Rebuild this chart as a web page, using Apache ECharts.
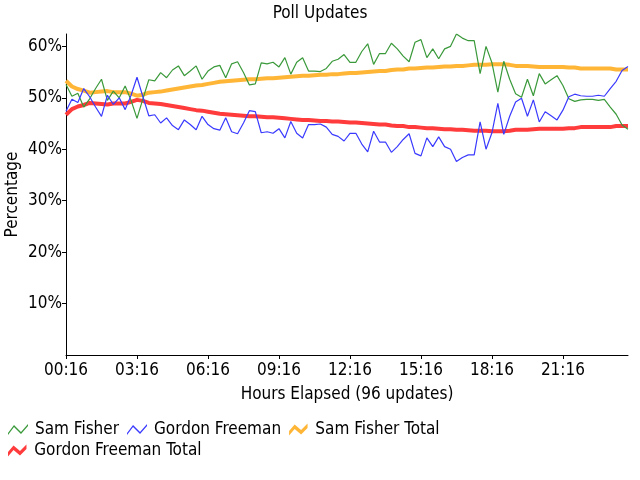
<!DOCTYPE html>
<html><head><meta charset="utf-8">
<script src="https://cdn.jsdelivr.net/npm/echarts@6/dist/echarts.min.js"></script>
<style>html,body{margin:0;padding:0;background:#fff}#c{width:640px;height:480px}</style>
</head><body><div id="c"></div>
<script>
var seriesNames = ['Sam Fisher', 'Gordon Freeman', 'Sam Fisher Total', 'Gordon Freeman Total'];
var yTicks = [10, 20, 30, 40, 50, 60];
var tickLabels = ['00:16','03:16','06:16','09:16','12:16','15:16','18:16','21:16'];
var samFisher = [
52.6, 50.3, 50.9, 48.2, 49.8, 51.8, 53.6, 49.5, 51.3, 50.0,
52.3, 49.5, 46.0, 49.8, 53.5, 53.3, 54.9, 53.9, 55.4, 56.2,
54.3, 55.2, 56.2, 53.6, 55.2, 56.0, 56.3, 53.9, 56.6, 57.0,
54.9, 52.5, 52.7, 56.8, 56.6, 56.9, 56.0, 57.8, 54.6, 56.9,
57.8, 55.2, 55.2, 55.1, 55.7, 57.1, 57.5, 58.4, 56.9, 56.9,
59.0, 60.5, 56.5, 58.6, 58.6, 60.6, 59.5, 58.1, 57.0, 60.8,
61.3, 57.8, 59.5, 57.6, 59.5, 60.0, 62.4, 61.6, 61.1, 61.1,
54.7, 60.0, 56.8, 51.1, 57.1, 53.6, 50.8, 50.1, 53.6, 50.4,
54.7, 52.7, 53.5, 54.3, 52.4, 49.8, 49.3, 49.6, 49.7, 49.7,
49.5, 49.7, 48.2, 46.8, 44.7, 43.9];
var gordonFreeman = [
47.4, 49.7, 49.1, 51.8, 50.2, 48.2, 46.4, 50.5, 48.7, 50.0,
47.7, 50.5, 54.0, 50.2, 46.5, 46.7, 45.1, 46.1, 44.6, 43.8,
45.7, 44.8, 43.8, 46.4, 44.8, 44.0, 43.7, 46.1, 43.4, 43.0,
45.1, 47.5, 47.3, 43.2, 43.4, 43.1, 44.0, 42.2, 45.4, 43.1,
42.2, 44.8, 44.8, 44.9, 44.3, 42.9, 42.5, 41.6, 43.1, 43.1,
41.0, 39.5, 43.5, 41.4, 41.4, 39.4, 40.5, 41.9, 43.0, 39.2,
38.7, 42.2, 40.5, 42.4, 40.5, 40.0, 37.6, 38.4, 38.9, 38.9,
45.3, 40.0, 43.2, 48.9, 42.9, 46.4, 49.2, 49.9, 46.4, 49.6,
45.3, 47.3, 46.5, 45.7, 47.6, 50.2, 50.7, 50.4, 50.3, 50.3,
50.5, 50.3, 51.8, 53.2, 55.3, 56.1];
var samFisherTotal = [
53.3, 52.2, 51.7, 51.4, 51.0, 51.1, 51.2, 51.3, 51.1, 51.1,
51.1, 50.8, 50.4, 50.6, 51.0, 51.1, 51.2, 51.4, 51.6, 51.8,
52.0, 52.2, 52.4, 52.5, 52.7, 52.9, 53.1, 53.2, 53.3, 53.4,
53.5, 53.6, 53.6, 53.7, 53.8, 53.8, 53.9, 54.0, 54.1, 54.2,
54.3, 54.3, 54.4, 54.5, 54.5, 54.6, 54.6, 54.7, 54.8, 54.8,
54.9, 55.0, 55.1, 55.2, 55.2, 55.4, 55.5, 55.5, 55.7, 55.7,
55.8, 55.9, 55.9, 56.0, 56.1, 56.1, 56.2, 56.2, 56.3, 56.4,
56.4, 56.4, 56.5, 56.5, 56.5, 56.4, 56.2, 56.2, 56.2, 56.1,
56.0, 56.0, 56.0, 56.0, 56.0, 55.9, 55.9, 55.7, 55.7, 55.7,
55.7, 55.7, 55.7, 55.5, 55.5, 55.5];
var gordonFreemanTotal = [
46.7, 47.8, 48.3, 48.6, 49.0, 48.9, 48.8, 48.7, 48.9, 48.9,
48.9, 49.2, 49.6, 49.4, 49.0, 48.9, 48.8, 48.6, 48.4, 48.2,
48.0, 47.8, 47.6, 47.5, 47.3, 47.1, 46.9, 46.8, 46.7, 46.6,
46.5, 46.4, 46.4, 46.3, 46.2, 46.2, 46.1, 46.0, 45.9, 45.8,
45.7, 45.7, 45.6, 45.5, 45.5, 45.4, 45.4, 45.3, 45.2, 45.2,
45.1, 45.0, 44.9, 44.8, 44.8, 44.6, 44.5, 44.5, 44.3, 44.3,
44.2, 44.1, 44.1, 44.0, 43.9, 43.9, 43.8, 43.8, 43.7, 43.6,
43.6, 43.6, 43.5, 43.5, 43.5, 43.6, 43.8, 43.8, 43.8, 43.9,
44.0, 44.0, 44.0, 44.0, 44.0, 44.1, 44.1, 44.3, 44.3, 44.3,
44.3, 44.3, 44.3, 44.5, 44.5, 44.5];

// category per update (15 minutes apart, starting 00:16)
var categories = [];
for (var i = 0; i < samFisher.length; i++) {
  var m = 16 + i * 15;
  var h = Math.floor(m / 60), mm = m % 60;
  categories.push((h < 10 ? '0' : '') + h + ':' + (mm < 10 ? '0' : '') + mm);
}

var FONT = '"Liberation Sans Narrow", "DejaVu Sans Condensed", sans-serif';
var FS = 17;
var thin = 'path://M0,10 L6,2 L13,9 L20,1 L20,3 L13,11 L6,4 L0,12 Z';
var thick = 'path://M0,8 L6,1 L13,7 L20,0 L20,5 L13,12 L6,6 L0,13 Z';
var colors = ['#3a993a', '#3a3aff', '#ffb536', '#ff3b3b'];

var chart = echarts.init(document.getElementById('c'), null, {renderer: 'canvas'});
chart.setOption({
  animation: false,
  color: colors,
  textStyle: {fontFamily: FONT, color: '#000'},
  title: {text: 'Poll Updates', left: 'center', top: 0,
    textStyle: {fontFamily: FONT, fontSize: FS, fontWeight: 'normal', color: '#000'}},
  grid: {left: 66, right: 12, top: 34, bottom: 125, containLabel: false, outerBoundsMode: 'none'},
  legend: [
    {data: [{name: seriesNames[0], icon: thin}, {name: seriesNames[1], icon: thin}, {name: seriesNames[2], icon: thick}],
     left: 8, top: 421, itemWidth: 20, itemHeight: 12, itemGap: 8, padding: 0,
     textStyle: {fontFamily: FONT, fontSize: FS, color: '#000', padding: [0, 0, 0, 2]}},
    {data: [{name: seriesNames[3], icon: thick}],
     left: 8, top: 442, itemWidth: 20, itemHeight: 12, itemGap: 8, padding: 0,
     textStyle: {fontFamily: FONT, fontSize: FS, color: '#000', padding: [0, 0, 0, 2]}}
  ],
  xAxis: {
    type: 'category', data: categories, boundaryGap: false,
    name: 'Hours Elapsed (96 updates)', nameLocation: 'middle', nameGap: 31, nameMoveOverlap: false,
    nameTextStyle: {fontFamily: FONT, fontSize: FS, color: '#000'},
    axisLine: {lineStyle: {color: '#000', width: 1}},
    axisTick: {length: 4, interval: function (idx) { return idx % 12 === 0; }, lineStyle: {color: '#000'}},
    axisLabel: {interval: function (idx) { return idx % 12 === 0; }, fontFamily: FONT, fontSize: FS, color: '#000', margin: 7,
      formatter: function (v, idx) { return tickLabels[idx / 12]; }},
    splitLine: {show: false}
  },
  yAxis: {
    type: 'value', min: 0, max: 62.4, interval: 10,
    name: 'Percentage', nameLocation: 'middle', nameGap: 45, nameRotate: 90, nameMoveOverlap: false,
    nameTextStyle: {fontFamily: FONT, fontSize: FS, color: '#000'},
    axisLine: {show: true, lineStyle: {color: '#000', width: 1}},
    axisTick: {show: true, length: 4, lineStyle: {color: '#000'}},
    axisLabel: {fontFamily: FONT, fontSize: FS, color: '#000', margin: 4, showMinLabel: false, showMaxLabel: false,
      formatter: function (v) { return yTicks.indexOf(v) >= 0 ? v + '%' : ''; }},
    splitLine: {show: false}
  },
  series: [
    {name: seriesNames[0], type: 'line', data: samFisher, showSymbol: false, z: 4,
     lineStyle: {width: 1.2, color: colors[0]}, itemStyle: {color: colors[0]}},
    {name: seriesNames[1], type: 'line', data: gordonFreeman, showSymbol: false, z: 4,
     lineStyle: {width: 1.2, color: colors[1]}, itemStyle: {color: colors[1]}},
    {name: seriesNames[2], type: 'line', data: samFisherTotal, showSymbol: false, z: 2,
     lineStyle: {width: 4, color: colors[2]}, itemStyle: {color: colors[2]}},
    {name: seriesNames[3], type: 'line', data: gordonFreemanTotal, showSymbol: false, z: 2,
     lineStyle: {width: 4, color: colors[3]}, itemStyle: {color: colors[3]}}
  ]
});
</script></body></html>
